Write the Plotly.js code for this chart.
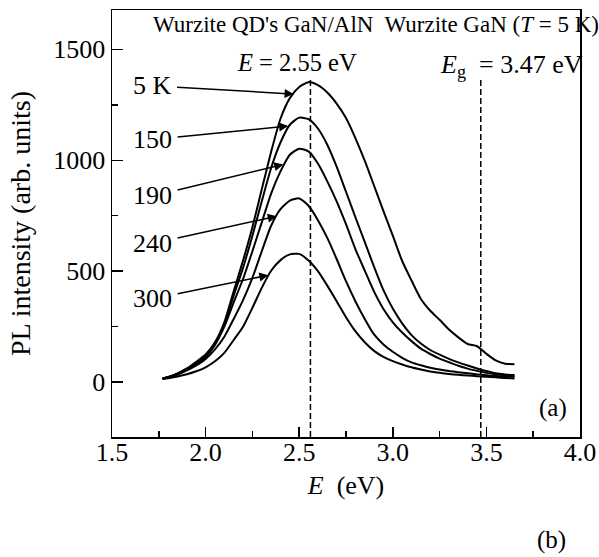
<!DOCTYPE html>
<html>
<head>
<meta charset="utf-8">
<script src="https://cdn.plot.ly/plotly-3.0.1.min.js"></script>
<style>
  html, body { margin: 0; padding: 0; background: #fff; }
  #chart { width: 599px; height: 557px; }
</style>
</head>
<body>
<div id="chart"></div>
<script>
// Photon energy grid (eV)
const energy = [1.77,1.80,1.85,1.90,1.95,2.00,2.05,2.10,2.15,2.20,2.25,2.30,2.35,2.40,2.45,2.50,2.55,2.60,2.65,2.70,2.75,2.80,2.85,2.90,2.95,3.00,3.05,3.10,3.15,3.20,3.25,3.30,3.35,3.40,3.45,3.50,3.55,3.60,3.65];

// PL intensity (arb. units) at each temperature
const pl5K   = [17,23,40,62,92,125,180,270,410,548,698,869,1038,1187,1280,1330,1352,1338,1305,1255,1190,1100,998,885,771,660,546,458,375,322,281,237,202,172,162,128,98,83,81];
const pl150K = [17,23,38,60,86,118,172,260,390,515,660,815,965,1080,1160,1192,1185,1143,1070,971,858,744,632,520,415,332,265,212,174,145,124,105,89,75,62,50,40,35,32];
const pl190K = [16,22,37,58,83,115,168,250,360,465,590,720,850,950,1025,1052,1040,985,905,815,712,600,503,408,330,270,224,185,151,127,106,90,74,61,51,42,36,31,27];
const pl240K = [16,21,34,53,76,105,148,205,285,370,470,590,705,780,818,828,795,730,650,555,455,365,285,215,170,137,110,89,76,65,57,50,45,40,35,31,28,26,24];
const pl300K = [14,18,26,36,49,67,94,132,190,250,335,425,502,550,576,578,548,500,435,365,293,230,180,141,114,95,80,67,57,48,42,37,33,30,27,25,22,19,17];

const seriesNames = ["5 K","150","190","240","300"];
const seriesData  = [pl5K, pl150K, pl190K, pl240K, pl300K];

// Reference energies marked with dashed lines (eV)
const markerEnergies = [2.56, 3.47];
const markerTop = 1375;

// Label position (arrow tail) and arrow tip, data coordinates
const labelE   = [1.714, 1.717, 1.717, 1.717, 1.717];
const labelI   = [1336, 1094, 839, 625, 376];
const tipE     = [2.470, 2.441, 2.415, 2.380, 2.335];
const tipI     = [1298, 1154, 981, 748, 482];

const xRange = [1.5, 4.0];
const yRange = [-247, 1677];

const FONT = "'Liberation Serif', 'Times New Roman', Times, serif";

const traces = seriesData.map((ys, i) => ({
  x: energy, y: ys, type: "scatter", mode: "lines", name: seriesNames[i],
  line: { color: "#000", width: 2, shape: "spline", smoothing: 0.6 },
  hoverinfo: "skip"
}));

markerEnergies.forEach(e => {
  traces.push({
    x: [e, e], y: [yRange[0], markerTop], type: "scatter", mode: "lines",
    line: { color: "#000", width: 1.5, dash: "6px,3px" }, hoverinfo: "skip"
  });
});

const annotations = [];
seriesNames.forEach((n, i) => {
  annotations.push({
    x: tipE[i], y: tipI[i], xref: "x", yref: "y", text: n, showarrow: true,
    ax: labelE[i], ay: labelI[i], axref: "x", ayref: "y",
    arrowhead: 2, arrowsize: 1.2, arrowwidth: 1.5, arrowcolor: "#000", standoff: 0,
    borderpad: 5,
    font: { family: FONT, size: 26, color: "#000" }
  });
});

annotations.push({
  x: 0.565, y: 0.966, xref: "paper", yref: "paper", showarrow: false,
  text: "Wurzite QD's GaN/AlN&nbsp; Wurzite GaN (<i>T</i> = 5 K)",
  xanchor: "center", yanchor: "middle", font: { family: FONT, size: 23, color: "#000" }
});
annotations.push({
  x: 0.396, y: 0.8775, xref: "paper", yref: "paper", showarrow: false,
  text: "<i>E</i> = 2.55 eV",
  xanchor: "center", yanchor: "middle", font: { family: FONT, size: 24.5, color: "#000" }
});
annotations.push({
  x: 0.853, y: 0.870, xref: "paper", yref: "paper", showarrow: false,
  text: "<i>E</i><sub>g</sub>&nbsp;&nbsp;= 3.47 eV",
  xanchor: "center", yanchor: "middle", font: { family: FONT, size: 26, color: "#000" }
});
annotations.push({
  x: 0.943, y: 0.067, xref: "paper", yref: "paper", showarrow: false,
  text: "(a)", xanchor: "center", yanchor: "middle",
  font: { family: FONT, size: 25, color: "#000" }
});
annotations.push({
  x: 0.940, y: -0.242, xref: "paper", yref: "paper", showarrow: false,
  text: "(b)", xanchor: "center", yanchor: "middle",
  font: { family: FONT, size: 25, color: "#000" }
});

const layout = {
  width: 599, height: 557,
  margin: { l: 112, r: 19, t: 10, b: 120, pad: 0 },
  paper_bgcolor: "#fff", plot_bgcolor: "#fff",
  showlegend: false,
  font: { family: FONT, size: 26, color: "#000" },
  xaxis: {
    range: xRange, dtick: 0.5, tick0: 1.5, tickformat: ".1f",
    ticks: "inside", ticklen: 10, tickwidth: 1.5, tickcolor: "#000",
    minor: { dtick: 0.25, ticks: "inside", ticklen: 6, tickwidth: 1.5, tickcolor: "#000" },
    showline: true, linecolor: "#000", linewidth: 1.5, mirror: true,
    showgrid: false, zeroline: false,
    ticklabelstandoff: -9,
    tickfont: { family: FONT, size: 26, color: "#000" },
    title: { text: "<i>E</i>&nbsp; (eV)", font: { family: FONT, size: 26, color: "#000" }, standoff: 10 },
    automargin: false
  },
  yaxis: {
    range: yRange, dtick: 500, tick0: 0,
    ticks: "inside", ticklen: 11, tickwidth: 1.5, tickcolor: "#000",
    minor: { dtick: 250, ticks: "inside", ticklen: 6, tickwidth: 1.5, tickcolor: "#000" },
    showline: true, linecolor: "#000", linewidth: 1.5, mirror: true,
    showgrid: false, zeroline: false,
    tickfont: { family: FONT, size: 26, color: "#000" },
    title: { text: "PL intensity (arb. units)", font: { family: FONT, size: 28, color: "#000" }, standoff: 14 },
    automargin: false
  },
  annotations: annotations
};

Plotly.newPlot("chart", traces, layout, { displayModeBar: false, staticPlot: true });
</script>
</body>
</html>
